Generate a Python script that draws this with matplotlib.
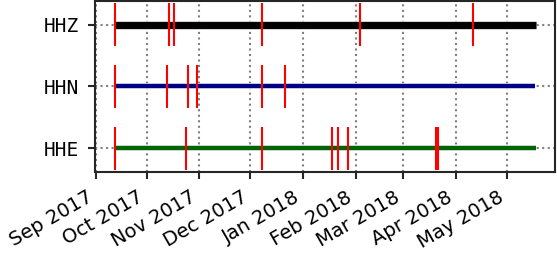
import numpy as np
import pandas as pd
import matplotlib
matplotlib.use("Agg")
import matplotlib.pyplot as plt
import matplotlib.dates as mdates
import matplotlib.patheffects as pe

channels = ["HHE", "HHN", "HHZ"]
colors = ["darkgreen", "navy", "black"]
widths = [3.0, 3.0, 5.0]
edges = ["#d8dce8", "#d0d4f0", "#c8c8c8"]

starts = ["2017-09-12 05:00", "2017-09-12 05:00", "2017-09-12 05:00"]
ends = ["2018-05-18 02:00", "2018-05-17 12:00", "2018-05-18 02:00"]

gaps_hhe = ["2017-09-12 05:00", "2017-10-24 02:00", "2017-12-08 00:00",
            "2018-01-18 07:00", "2018-01-21 22:00", "2018-01-27 20:00",
            "2018-03-20 14:00", "2018-03-21 20:00"]
gaps_hhn = ["2017-09-12 05:00", "2017-10-12 22:00", "2017-10-25 07:00",
            "2017-10-30 14:00", "2017-12-08 00:00", "2017-12-21 14:00"]
gaps_hhz = ["2017-09-12 05:00", "2017-10-14 03:00", "2017-10-17 00:00",
            "2017-12-08 00:00", "2018-02-03 17:00", "2018-04-11 03:00"]
gaps = [gaps_hhe, gaps_hhn, gaps_hhz]

month_ticks = pd.date_range("2017-09-01", "2018-05-01", freq="MS")

fig = plt.figure(figsize=(5.57, 2.54), dpi=100)
ax = fig.add_axes([0.1706, 0.3248, 0.8267, 0.6693])

for i, ch in enumerate(channels):
    t0 = mdates.date2num(pd.Timestamp(starts[i]))
    t1 = mdates.date2num(pd.Timestamp(ends[i]))
    ln, = ax.plot([t0, t1], [i, i], color=colors[i], lw=widths[i],
                  solid_capstyle="butt", zorder=3)
    ln.set_path_effects([pe.Stroke(linewidth=widths[i] + 1.2, foreground=edges[i]),
                         pe.Normal()])
    g = mdates.date2num(pd.to_datetime(gaps[i]))
    ax.vlines(g, i - 0.35, i + 0.35, color="red", lw=1.5, zorder=4)

all_start = mdates.date2num(pd.Timestamp(min(starts)))
all_end = mdates.date2num(pd.Timestamp(max(ends)))
span = all_end - all_start
ax.set_xlim(all_start - 0.0475 * span, all_end + 0.0475 * span)
ax.set_ylim(-0.38, 2.38)

ax.set_yticks(range(len(channels)))
ax.set_yticklabels(channels, fontfamily="DejaVu Sans Mono", fontsize=14)
ax.set_xticks(mdates.date2num(month_ticks))
ax.set_xticklabels([d.strftime("%b %Y") for d in month_ticks],
                   rotation=30, ha="right", fontsize=14)

ax.grid(True, linestyle=":", color="gray", lw=1.5, zorder=0)
ax.set_axisbelow(True)
for s in ax.spines.values():
    s.set_linewidth(1.5)
    s.set_color("#262626")
ax.tick_params(length=5, width=1.5, color="#262626", pad=6.5)

fig.savefig("out.png", dpi=100)
